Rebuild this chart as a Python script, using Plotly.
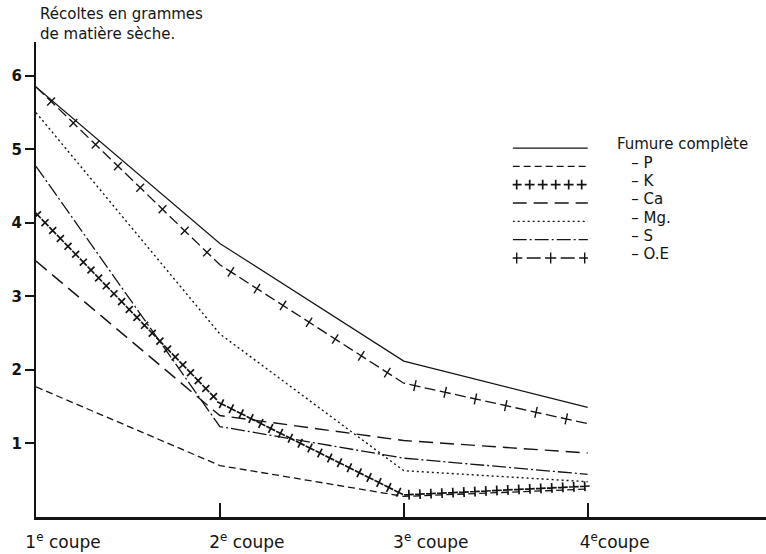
import numpy as np
import plotly.graph_objects as go

# Harvest (grams of dry matter) per cut, for each fertiliser treatment
coupes = [1, 2, 3, 4]
coupe_labels = ["1<sup>e</sup> coupe", "2<sup>e</sup> coupe", "3<sup>e</sup> coupe", "4<sup>e</sup>coupe"]

fumure_complete = [5.85, 3.72, 2.12, 1.49]
sans_p = [1.77, 0.70, 0.28, 0.38]
sans_k = [4.13, 1.55, 0.30, 0.42]
sans_ca = [3.48, 1.38, 1.04, 0.87]
sans_mg = [5.50, 2.49, 0.63, 0.48]
sans_s = [4.77, 1.23, 0.80, 0.58]
sans_oe = [5.85, 3.43, 1.82, 1.27]

y_ticks = [1, 2, 3, 4, 5, 6]
legend_labels = [
    "Fumure complète",
    "\u00a0\u00a0\u00a0– P",
    "\u00a0\u00a0\u00a0– K",
    "\u00a0\u00a0\u00a0– Ca",
    "\u00a0\u00a0\u00a0– Mg.",
    "\u00a0\u00a0\u00a0– S",
    "\u00a0\u00a0\u00a0– O.E",
]

# ---- geometry -------------------------------------------------------------
W, H = 766, 554
MARGIN = dict(l=36, r=0, t=42, b=37)
X_RANGE = [1, 4.97]
Y_RANGE = [0, 6.46]
PLOT_W = W - MARGIN["l"] - MARGIN["r"]
PLOT_H = H - MARGIN["t"] - MARGIN["b"]
SX = PLOT_W / (X_RANGE[1] - X_RANGE[0])   # px per x unit
SY = PLOT_H / (Y_RANGE[1] - Y_RANGE[0])   # px per y unit

LEG_X_DOMAIN = [0.653, 0.756]
LEG_Y_DOMAIN = [0.526, 0.796]
LEG_SX = PLOT_W * (LEG_X_DOMAIN[1] - LEG_X_DOMAIN[0])

INK = "#141414"
FONT = "DejaVu Sans"


def stroke_marks(xs, ys, sx, sy, spacing, offset):
    """Positions and orientations of symbols repeated along a polyline,
    spaced evenly in screen pixels (a symbol-based line style)."""
    xs = np.asarray(xs, float)
    ys = np.asarray(ys, float)
    dx = np.diff(xs) * sx
    dy = -np.diff(ys) * sy
    seg = np.hypot(dx, dy)
    cum = np.concatenate([[0.0], np.cumsum(seg)])
    s = np.arange(offset, cum[-1] + 1e-6, spacing)
    mx = np.interp(s, cum, xs)
    my = np.interp(s, cum, ys)
    idx = np.clip(np.searchsorted(cum, s, side="right") - 1, 0, len(seg) - 1)
    ang = np.degrees(np.arctan2(dy[idx], dx[idx]))
    return mx, my, ang


fig = go.Figure()


def add_series(xs, ys, xa, ya, sx, sy, style):
    kind = style["kind"]
    if kind in ("line", "dashcross"):
        fig.add_trace(go.Scatter(
            x=xs, y=ys, mode="lines", xaxis=xa, yaxis=ya,
            line=dict(color=INK, width=style.get("width", 1.3), dash=style.get("dash", "solid")),
            hoverinfo="skip", showlegend=False,
        ))
    if kind in ("cross", "dashcross"):
        mx, my, ang = stroke_marks(xs, ys, sx, sy, style["spacing"], style["offset"])
        fig.add_trace(go.Scatter(
            x=mx, y=my, mode="markers", xaxis=xa, yaxis=ya,
            marker=dict(symbol="cross-thin", size=style["size"], angle=ang,
                        color=INK, line=dict(color=INK, width=style["mwidth"])),
            hoverinfo="skip", showlegend=False,
        ))


styles = [
    dict(kind="line", dash="solid", width=1.2),
    dict(kind="line", dash="7px,4px", width=1.3),
    dict(kind="cross", spacing=11, offset=2, size=7, mwidth=1.7),
    dict(kind="line", dash="14px,7px", width=1.4),
    dict(kind="line", dash="2px,3px", width=1.4),
    dict(kind="line", dash="14px,3px,2px,3px", width=1.3),
    dict(kind="dashcross", dash="11px,20px", width=1.3, spacing=31, offset=21, size=8, mwidth=1.4),
]
series = [fumure_complete, sans_p, sans_k, sans_ca, sans_mg, sans_s, sans_oe]

for vals, st in zip(series, styles):
    add_series(coupes, vals, "x", "y", SX, SY, st)

# key: one short sample of each line style, labelled on its own axis
for row, st in enumerate(styles):
    leg_st = dict(st)
    if st["kind"] == "cross":
        leg_st.update(spacing=13, offset=4)
    if st["kind"] == "dashcross":
        leg_st.update(offset=4, spacing=34, dash="0px,14px,14px,6px")
    add_series([0, 1], [row, row], "x2", "y2", LEG_SX, 1, leg_st)

# caption above the vertical axis
fig.add_annotation(
    text="Récoltes en grammes<br>de matière sèche.",
    xref="paper", yref="paper", x=0, y=1, xshift=2, yshift=-3,
    xanchor="left", yanchor="bottom", align="left", showarrow=False,
    font=dict(family=FONT, size=15, color=INK),
)

fig.update_layout(
    width=W, height=H, margin=MARGIN,
    paper_bgcolor="white", plot_bgcolor="white",
    showlegend=False,
    xaxis=dict(
        range=X_RANGE, showgrid=False, zeroline=False,
        showline=True, linecolor=INK, linewidth=2.5,
        ticks="inside", ticklen=14, tickwidth=1.5, tickcolor=INK,
        tickvals=coupes, ticktext=coupe_labels,
        ticklabelshift=27, ticklabelstandoff=8,
        tickfont=dict(family=FONT, size=17, color=INK),
    ),
    yaxis=dict(
        range=Y_RANGE, showgrid=False, zeroline=False,
        showline=True, linecolor=INK, linewidth=2,
        ticks="outside", ticklen=9, tickwidth=1.5, tickcolor=INK,
        tickvals=y_ticks, ticktext=[str(v) for v in y_ticks],
        tickfont=dict(family=FONT, size=15, color=INK, weight="bold"),
    ),
    xaxis2=dict(
        domain=LEG_X_DOMAIN, range=[0, 1], anchor="y2",
        showgrid=False, zeroline=False, showline=False,
        showticklabels=False, ticks="",
    ),
    yaxis2=dict(
        domain=LEG_Y_DOMAIN, range=[6.5, -0.5], anchor="x2", side="right",
        showgrid=False, zeroline=False, showline=False, ticks="",
        tickvals=list(range(len(legend_labels))), ticktext=legend_labels,
        ticklabelstandoff=28, ticklabelshift=4,
        tickfont=dict(family=FONT, size=15, color=INK),
    ),
)

fig.write_html("out.html")
